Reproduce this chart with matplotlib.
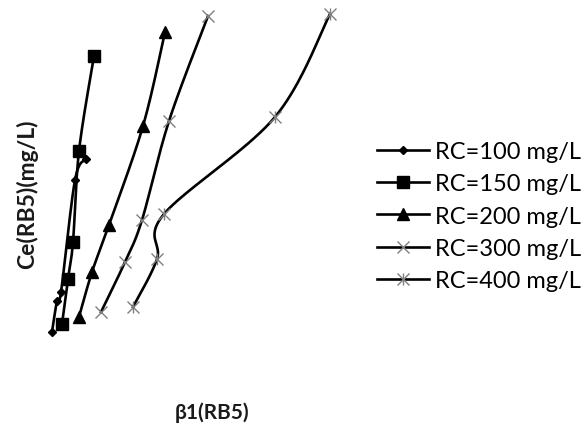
import numpy as np
import matplotlib
matplotlib.use("Agg")
import matplotlib.pyplot as plt
from matplotlib.lines import Line2D

plt.rcParams['font.family'] = ['Lato', 'DejaVu Sans']

# β1(RB5) and Ce(RB5) (mg/L) for each initial concentration RC
labels = ["RC=100 mg/L", "RC=150 mg/L", "RC=200 mg/L", "RC=300 mg/L", "RC=400 mg/L"]
beta_100 = [0.12, 0.17, 0.21, 0.35, 0.46]
ce_100 = [7, 38, 47, 159, 180]
beta_150 = [0.22, 0.28, 0.33, 0.39, 0.54]
ce_150 = [15, 60, 97, 188, 283]
beta_200 = [0.39, 0.52, 0.69, 1.03, 1.25]
ce_200 = [22, 67, 114, 213, 307]
beta_300 = [0.61, 0.85, 1.02, 1.29, 1.68]
ce_300 = [27, 77, 119, 218, 323]
beta_400 = [0.93, 1.17, 1.24, 2.35, 2.90]
ce_400 = [32, 80, 125, 222, 325]


def smooth(x, y, n=40):
    """Cardinal (Catmull-Rom) Bezier smoothing through the given points."""
    p = np.column_stack([x, y]).astype(float)
    out = [p[0]]
    t = np.linspace(0, 1, n)[1:, None]
    for i in range(len(p) - 1):
        p0 = p[i - 1] if i > 0 else p[i]
        p3 = p[i + 2] if i + 2 < len(p) else p[i + 1]
        p1, p2 = p[i], p[i + 1]
        c1 = p1 + (p2 - p0) / 6.0
        c2 = p2 - (p3 - p1) / 6.0
        seg = ((1 - t) ** 3) * p1 + 3 * ((1 - t) ** 2) * t * c1 + 3 * (1 - t) * t ** 2 * c2 + t ** 3 * p2
        out.extend(seg)
    out = np.array(out)
    return out[:, 0], out[:, 1]


fig = plt.figure(figsize=(5.82, 4.39), dpi=100)
ax = fig.add_axes([40 / 582, 99 / 439, 300 / 582, 340 / 439])
ax.set_xlim(0, 3.0)
ax.set_ylim(0, 340)
ax.axis('off')

lw = 1.9
gray = '#7f7f7f'

series = [
    (beta_100, ce_100, dict(marker='D', ms=4.5, color='black')),
    (beta_150, ce_150, dict(marker='s', ms=8, color='black')),
    (beta_200, ce_200, dict(marker='^', ms=8, color='black')),
    (beta_300, ce_300, dict(marker='x', ms=8, mew=1.0, mec=gray)),
]
for bx, cy, mk in series:
    sx, sy = smooth(bx, cy)
    ax.plot(sx, sy, color='black', lw=lw, zorder=2)
    ax.plot(bx, cy, ls='none', zorder=3, **mk)

sx, sy = smooth(beta_400, ce_400)
ax.plot(sx, sy, color='black', lw=lw, zorder=2)
ax.plot(beta_400, ce_400, ls='none', marker='x', ms=8, mew=1.0, mec=gray, zorder=3)
ax.plot(beta_400, ce_400, ls='none', marker='|', ms=9, mew=1.0, mec=gray, zorder=3)

handles = [
    Line2D([], [], color='black', lw=lw, marker='D', ms=4.5),
    Line2D([], [], color='black', lw=lw, marker='s', ms=8),
    Line2D([], [], color='black', lw=lw, marker='^', ms=8),
    Line2D([], [], color='black', lw=lw, marker='x', ms=8, mew=1.0, mec=gray),
    (Line2D([], [], color='black', lw=lw, marker='x', ms=8, mew=1.0, mec=gray),
     Line2D([], [], color='none', lw=0, marker='|', ms=9, mew=1.0, mec=gray)),
]
fig.legend(handles, labels, loc='upper left', bbox_to_anchor=(377 / 582, 1 - 142 / 439),
           frameon=False, fontsize=17, handlelength=2.2, handletextpad=0.25,
           labelspacing=0.48, borderpad=0, borderaxespad=0)

fig.text(27 / 582, 1 - 194 / 439, "Ce(RB5)(mg/L)", rotation=90, ha='center', va='center',
         fontsize=16.5, fontweight='bold', color='#1a1a1a')
fig.text(212 / 582, 1 - 413 / 439, "β1(RB5)", ha='center', va='center',
         fontsize=15, fontweight='bold', color='#1a1a1a')

fig.savefig("out.png", dpi=100)
